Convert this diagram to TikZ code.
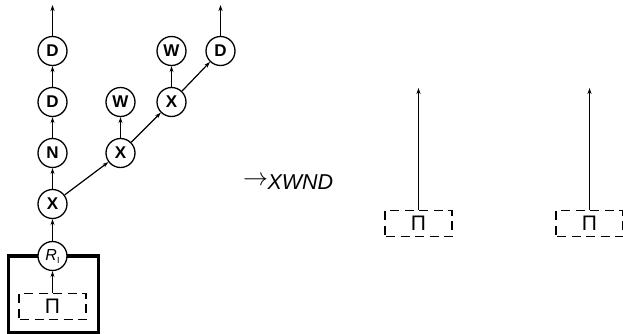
\documentclass[tikz,border=0pt]{standalone}
\usepackage{fontspec}
\setmainfont{Liberation Sans}
\usetikzlibrary{arrows.meta}
\begin{document}
\begin{tikzpicture}[x=1pt,y=-1pt,
  every node/.style={font=\fontsize{15}{17}\selectfont},
  cnode/.style={circle,draw,line width=1.3pt,minimum size=29pt,inner sep=0pt,fill=white,font=\fontsize{17}{19}\selectfont\bfseries},
  dbox/.style={draw,dash pattern=on 9pt off 5.5pt,dash phase=-1pt,line width=1.2pt,minimum width=67pt,minimum height=26pt,inner sep=0pt,font=\fontsize{21}{22}\selectfont},
  conn/.style={line width=1.2pt,-{Stealth[length=6pt,width=4pt]}},
  thickbox/.style={line width=3.5pt}]
\useasboundingbox (0,0) rectangle (623,334);
% left tree
\draw[thickbox] (8.5,256) rectangle (98.5,332.5);
\node[cnode] (D1) at (52.5,51) {D};
\node[cnode] (D2) at (52.5,102) {D};
\node[cnode] (N) at (52.5,153) {N};
\node[cnode] (X1) at (52.5,204) {X};
\node[cnode,font=\fontsize{16}{18}\selectfont] (R) at (52.5,256) {\textit{R}\raisebox{-3pt}{\fontsize{9}{9}\selectfont I}};
\node[dbox] (P1) at (52.5,306.5) {\raisebox{-1pt}{Π}};
\node[cnode] (W1) at (120.5,102) {W};
\node[cnode] (X2) at (120.5,153) {X};
\node[cnode] (X3) at (171.5,102) {X};
\node[cnode] (W2) at (171.5,51) {W};
\node[cnode] (D3) at (220.5,51) {D};
\coordinate (T1) at (52.5,5);
\coordinate (T2) at (220.5,5);
\draw[conn] (P1) -- (R);
\draw[conn] (R) -- (X1);
\draw[conn] (X1) -- (N);
\draw[conn] (N) -- (D2);
\draw[conn] (D2) -- (D1);
\draw[conn] (D1) -- (T1);
\draw[conn] (X1) -- (X2);
\draw[conn] (X2) -- (W1);
\draw[conn] (X2) -- (X3);
\draw[conn] (X3) -- (W2);
\draw[conn] (X3) -- (D3);
\draw[conn] (D3) -- (T2);
% label
\node[anchor=west,inner sep=0pt,font=\fontsize{21.5}{23}\selectfont] (L) at (243,182) {\raisebox{3.5pt}{\fontsize{26}{26}\selectfont$\rightarrow$}\kern-0.5pt\textit{XWND}};
% right boxes
\node[dbox] (P2) at (418.5,223.5) {\raisebox{-1pt}{Π}};
\node[dbox] (P3) at (589.5,223.5) {\raisebox{-1pt}{Π}};
\coordinate (T3) at (418.5,88);
\coordinate (T4) at (589.5,88);
\draw[conn] (P2) -- (T3);
\draw[conn] (P3) -- (T4);
\end{tikzpicture}
\end{document}
